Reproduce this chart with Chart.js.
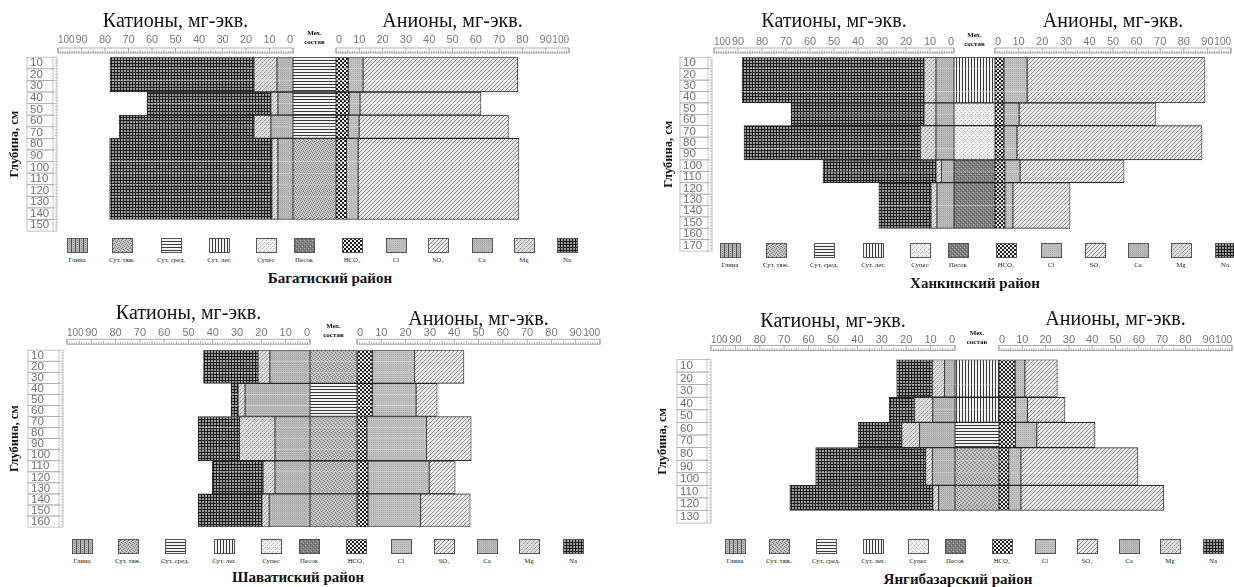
<!DOCTYPE html>
<html>
<head>
<meta charset="utf-8">
<script src="https://cdn.jsdelivr.net/npm/chart.js@4.4.1/dist/chart.umd.min.js"></script>
<style>
  body { margin: 0; width: 1234px; height: 587px; overflow: hidden; background: #fff; position: relative; }
  canvas { position: absolute; }
  .lg { position: absolute; transform: translate(-50%, -50%); font: 6.8px "Liberation Serif", serif; color: #222; white-space: nowrap; }
  .dist { position: absolute; transform: translate(-50%, -50%); font: bold 15px "Liberation Serif", serif; color: #111; white-space: nowrap; }
</style>
</head>
<body>
<canvas id="c1" width="617" height="238"></canvas>
<canvas id="c2" width="643" height="258"></canvas>
<canvas id="c3" width="617" height="241"></canvas>
<canvas id="c4" width="643" height="238"></canvas>
<script>
// ---- data ----
const meqTicks = [0, 10, 20, 30, 40, 50, 60, 70, 80, 90, 100]
const cationTitle = 'Катионы, мг-экв.'
const anionTitle = 'Анионы, мг-экв.'
const mechTitle = ['Мех.', 'состав']
const depthTitle = 'Глубина, см'
const soilNames = ['Глина', 'Сут. тяж.', 'Сут. сред.', 'Сут. лег.', 'Супес', 'Песок']
const legendNames = ['Глина', 'Сут. тяж.', 'Сут. сред.', 'Сут. лег.', 'Супес', 'Песок', 'HCO₃', 'Cl', 'SO₄', 'Ca', 'Mg', 'Na']

// Багатиский район
const depthBagat = [10, 20, 30, 40, 50, 60, 70, 80, 90, 100, 110, 120, 130, 140, 150]
const layersBagat = [[10, 30], [40, 50], [60, 70], [80, 140]]
const soilBagat = ['Сут. сред.', 'Сут. сред.', 'Сут. сред.', 'Сут. тяж.']
const caBagat = [6.8, 6.4, 9.4, 6.4]
const mgBagat = [9.8, 3.0, 7.2, 2.6]
const naBagat = [61.3, 52.7, 57.4, 69.0]
const hco3Bagat = [5.2, 5.6, 5.2, 4.5]
const clBagat = [6.4, 4.7, 4.7, 5.0]
const so4Bagat = [66.4, 51.9, 64.1, 69.0]

// Ханкинский район
const depthKhanka = [10, 20, 30, 40, 50, 60, 70, 80, 90, 100, 110, 120, 130, 140, 150, 160, 170]
const layersKhanka = [[10, 40], [50, 60], [70, 90], [100, 110], [120, 150]]
const soilKhanka = ['Сут. лег.', 'Супес', 'Супес', 'Песок', 'Песок']
const caKhanka = [7.5, 7.5, 7.5, 5.2, 7.1]
const mgKhanka = [5.0, 5.0, 6.5, 2.3, 2.5]
const naKhanka = [75.8, 55.4, 73.5, 47.1, 21.7]
const hco3Khanka = [3.8, 3.8, 3.8, 4.2, 4.2]
const clKhanka = [9.8, 6.4, 5.5, 6.4, 3.4]
const so4Khanka = [75.4, 58.0, 78.4, 44.1, 24.2]

// Шаватиский район
const depthShavat = [10, 20, 30, 40, 50, 60, 70, 80, 90, 100, 110, 120, 130, 140, 150, 160]
const layersShavat = [[10, 30], [40, 60], [70, 100], [110, 130], [140, 160]]
const soilShavat = ['Сут. тяж.', 'Сут. сред.', 'Сут. тяж.', 'Сут. тяж.', 'Сут. тяж.']
const caShavat = [16.5, 26.7, 14.4, 14.4, 16.8]
const mgShavat = [4.9, 2.9, 14.6, 4.9, 3.0]
const naShavat = [22.4, 2.9, 17.0, 20.9, 26.2]
const hco3Shavat = [6.3, 6.3, 4.1, 4.5, 4.5]
const clShavat = [17.4, 18.0, 24.5, 25.2, 21.7]
const so4Shavat = [20.3, 8.7, 18.4, 10.7, 20.4]

// Янгибазарский район
const depthYangi = [10, 20, 30, 40, 50, 60, 70, 80, 90, 100, 110, 120, 130]
const layersYangi = [[10, 30], [40, 50], [60, 70], [80, 100], [110, 120]]
const soilYangi = ['Сут. лег.', 'Сут. лег.', 'Сут. сред.', 'Сут. тяж.', 'Сут. тяж.']
const caYangi = [4.3, 9.1, 14.5, 9.3, 6.7]
const mgYangi = [5.0, 7.5, 7.3, 2.7, 2.4]
const naYangi = [14.6, 10.4, 17.9, 45.1, 58.6]
const hco3Yangi = [6.9, 7.1, 7.1, 4.2, 4.2]
const clYangi = [4.2, 5.1, 9.1, 5.2, 5.2]
const so4Yangi = [13.9, 16.1, 25.0, 50.2, 61.3]

// ---- layout of the four panels (page pixels) ----
const panels = [
  { id: 'c1', name: 'Багатиский район', depth: depthBagat, layers: layersBagat, soil: soilBagat,
    ca: caBagat, mg: mgBagat, na: naBagat, hco3: hco3Bagat, cl: clBagat, so4: so4Bagat,
    left: 0, top: 0, chartL: 58, c0: 293, a0: 336, chartR: 569, chartT: 57.2,
    cellL: 27, cellR: 53, yTitleX: 15, tickY: 40, catY: 22, anY: 22, gap: 4.2,
    legTop: 238, legXs: [77, 122, 171, 219, 266, 304, 352, 396, 438, 482, 524, 567], titleX: 330, titleY: 278 },
  { id: 'c2', name: 'Ханкинский район', depth: depthKhanka, layers: layersKhanka, soil: soilKhanka,
    ca: caKhanka, mg: mgKhanka, na: naKhanka, hco3: hco3Khanka, cl: clKhanka, so4: so4Khanka,
    left: 617, top: 0, chartL: 714, c0: 954, a0: 995, chartR: 1231, chartT: 57.3,
    cellL: 680, cellR: 708, yTitleX: 669, tickY: 41.7, catY: 21.7, anY: 21.7, gap: 4.3,
    legTop: 243, legXs: [730, 776, 824, 873, 920, 958, 1006, 1051, 1095, 1138, 1181, 1225], titleX: 975, titleY: 283 },
  { id: 'c3', name: 'Шаватиский район', depth: depthShavat, layers: layersShavat, soil: soilShavat,
    ca: caShavat, mg: mgShavat, na: naShavat, hco3: hco3Shavat, cl: clShavat, so4: so4Shavat,
    left: 0, top: 293, chartL: 67, c0: 310, a0: 357, chartR: 600, chartT: 350.2,
    cellL: 28, cellR: 59, yTitleX: 15, tickY: 333, catY: 314, anY: 319.5, gap: 6,
    legTop: 539, legXs: [82, 128, 175, 224, 271, 309, 356, 401, 444, 487, 529, 573], titleX: 298, titleY: 577 },
  { id: 'c4', name: 'Янгибазарский район', depth: depthYangi, layers: layersYangi, soil: soilYangi,
    ca: caYangi, mg: mgYangi, na: naYangi, hco3: hco3Yangi, cl: clYangi, so4: so4Yangi,
    left: 617, top: 293, chartL: 711, c0: 955, a0: 999, chartR: 1232, chartT: 359.5,
    cellL: 677, cellR: 707, yTitleX: 663, tickY: 340, catY: 321.7, anY: 319.5, gap: 9,
    legTop: 539, legXs: [735, 779, 826, 873, 918, 955, 1002, 1045, 1087, 1129, 1170, 1213], titleX: 958, titleY: 578.5 }
]
const pitches = { c1: 11.64, c2: 11.4, c3: 11.1, c4: 12.65 }

const serif = '"Liberation Serif", "DejaVu Serif", serif'
const sans = '"Liberation Sans Narrow", "Liberation Sans", Arial, sans-serif'

// hatch tiles, one per legend entry
function makeTile(name) {
  const D = '#1e1e1e'
  const specs = {
    'Na':        [3, 3, '#9c9c9c', [[0,0,D],[1,0,D],[2,0,D],[0,1,D],[0,2,D]]],
    'Mg':        [4, 4, '#dedede', [[0,0,'#8a8a8a'],[2,2,'#8a8a8a'],[3,1,'#b0b0b0'],[1,3,'#b0b0b0']]],
    'Ca':        [2, 2, '#bababa', [[0,0,'#a6a6a6']]],
    'Cl':        [2, 2, '#c1c1c1', [[1,1,'#acacac']]],
    'HCO₃':      [4, 4, '#ececec', [[0,0,D],[1,0,D],[0,1,D],[1,1,D],[2,2,D],[3,2,D],[2,3,D],[3,3,D]]],
    'SO₄':       [4, 4, '#ececec', [[3,0,'#858585'],[2,1,'#858585'],[1,2,'#858585'],[0,3,'#858585']]],
    'Глина':     [4, 2, '#b9b9b9', [[0,0,'#4a4a4a'],[0,1,'#4a4a4a'],[2,0,'#8a8a8a']]],
    'Сут. тяж.': [4, 4, '#c6c6c6', [[0,0,'#707070'],[2,1,'#707070'],[1,2,'#707070'],[3,3,'#707070']]],
    'Сут. сред.':[1, 3, '#f2f2f2', [[0,0,'#3a3a3a']]],
    'Сут. лег.': [3, 1, '#f2f2f2', [[0,0,'#3a3a3a']]],
    'Супес':     [4, 4, '#efefef', [[0,0,'#b4b4b4'],[2,2,'#b4b4b4'],[3,1,'#cfcfcf']]],
    'Песок':     [4, 4, '#7d7d7d', [[0,0,'#b8b8b8'],[2,2,'#b8b8b8'],[1,3,'#5c5c5c'],[3,1,'#5c5c5c']]]
  }
  const [w, h, bg, marks] = specs[name]
  const c = document.createElement('canvas')
  c.width = w
  c.height = h
  const g = c.getContext('2d')
  g.fillStyle = bg
  g.fillRect(0, 0, w, h)
  marks.forEach(([x, y, col]) => { g.fillStyle = col; g.fillRect(x, y, 1, 1) })
  return c
}

// rulers above the scales and boxed depth labels
const decor = {
  id: 'decor',
  afterDraw(chart, args, o) {
    const { ctx, chartArea, scales } = chart
    ctx.save()
    ctx.strokeStyle = '#8a8a8a'
    ctx.lineWidth = 0.7
    const yb = chartArea.top - o.gap
    for (const id of ['xc', 'xa']) {
      const s = scales[id]
      const x0 = s.getPixelForValue(0), x1 = s.getPixelForValue(100)
      ctx.strokeRect(Math.min(x0, x1), yb - 5, Math.abs(x1 - x0), 5)
      ctx.beginPath()
      for (let v = 0; v <= 100; v++) {
        const x = s.getPixelForValue(v)
        const h = v % 10 === 0 ? 5 : v % 5 === 0 ? 3.2 : 2
        ctx.moveTo(x, yb)
        ctx.lineTo(x, yb - h)
      }
      ctx.stroke()
    }
    const y = scales.y
    const n = y.ticks.length
    const p = (chartArea.bottom - chartArea.top) / n
    ctx.strokeStyle = '#a8a8a8'
    for (let i = 0; i < n; i++) {
      const yc = y.getPixelForTick(i)
      ctx.strokeRect(o.cellL, yc - p / 2, o.cellR - o.cellL, p)
    }
    ctx.beginPath()
    ctx.moveTo(o.cellR + 4, chartArea.top)
    ctx.lineTo(o.cellR + 4, chartArea.bottom)
    for (let k = 0; k <= n * 4; k++) {
      const yy = chartArea.top + k * p / 4
      ctx.moveTo(o.cellR + 4, yy)
      ctx.lineTo(o.cellR + (k % 4 === 0 ? 0 : 2), yy)
    }
    ctx.stroke()
    ctx.restore()
  }
}

function buildPanel(p) {
  const cv = document.getElementById(p.id)
  cv.style.left = p.left + 'px'
  cv.style.top = p.top + 'px'
  const ctx = cv.getContext('2d')
  const pitch = pitches[p.id]
  const bottom = p.chartT + pitch * p.depth.length
  cv.height = Math.ceil(bottom - p.top + 6)
  cv.width = Math.ceil(p.chartR + 20 - p.left)
  const labelX = p.cellL + 3 - p.left

  const layerOf = d => p.layers.findIndex(l => d >= l[0] && d <= l[1])
  const perRow = vals => p.depth.map(d => { const i = layerOf(d); return i < 0 ? null : vals[i] })
  const edge = c => {
    if (c.dataIndex === undefined) return 1
    const d = p.depth[c.dataIndex]
    const i = layerOf(d)
    if (i < 0) return 0
    const l = p.layers[i]
    return { top: d === l[0] ? 1 : 0, bottom: d === l[1] ? 1 : 0, left: 0.8, right: 0.8 }
  }
  const ds = (label, axis, vals) => ({
    label: label,
    xAxisID: axis,
    data: perRow(vals),
    backgroundColor: ctx.createPattern(makeTile(label), 'repeat'),
    borderColor: '#262626',
    borderWidth: edge,
    borderSkipped: false
  })

  // the end label "100" sits inside the ruler, slightly smaller so it clears "90"
  const tickFont = c => ({ family: sans, size: c.tick && c.tick.value === 100 ? 10 : 11 })
  const tickPad = p.chartT - p.tickY - 6.6
  const topAxis = (extra) => Object.assign({
    type: 'linear', position: 'top', stack: 'top', stacked: true,
    grid: { display: false, drawTicks: false },
    border: { display: false },
    afterFit: s => { s.height = p.chartT - p.top }
  }, extra)

  new Chart(ctx, {
    type: 'bar',
    data: {
      labels: p.depth.map(String),
      datasets: [
        ds('Ca', 'xc', p.ca), ds('Mg', 'xc', p.mg), ds('Na', 'xc', p.na),
        ds('HCO₃', 'xa', p.hco3), ds('Cl', 'xa', p.cl), ds('SO₄', 'xa', p.so4),
        ...soilNames.map(s => ds(s, 'xm', p.soil.map(t => t === s ? 1 : null)))
      ]
    },
    options: {
      indexAxis: 'y',
      responsive: false,
      animation: false,
      events: [],
      layout: { padding: { left: labelX, top: 0, right: cv.width - (p.chartR - p.left), bottom: cv.height - (bottom - p.top) } },
      datasets: { bar: { barPercentage: 1, categoryPercentage: 1 } },
      plugins: {
        legend: { display: false },
        tooltip: { enabled: false },
        decor: { gap: p.gap, cellL: p.cellL - p.left, cellR: p.cellR - p.left }
      },
      scales: {
        y: {
          stacked: true,
          grid: { display: false, drawTicks: false },
          border: { display: false },
          ticks: { autoSkip: false, crossAlign: 'far', padding: 0, color: '#707070', font: { family: sans, size: 11.5 } },
          title: { display: true, text: depthTitle, color: '#111', font: { family: serif, size: 12.5, weight: 'bold' },
                   padding: { top: p.yTitleX - p.left - labelX - 7.5, bottom: 0 } },
          afterFit: s => { s.width = p.chartL - p.left - labelX }
        },
        xc: topAxis({
          weight: 3, stackWeight: p.c0 - p.chartL, reverse: true, min: 0, max: 100,
          afterBuildTicks: s => { s.ticks = meqTicks.map(v => ({ value: v })) },
          ticks: { autoSkip: false, maxRotation: 0, align: 'inner', padding: tickPad, color: '#777', font: tickFont },
          title: { display: true, text: cationTitle, color: '#111', font: { family: serif, size: 20 },
                   padding: { top: p.catY - p.top - 12, bottom: 0 } }
        }),
        xm: topAxis({
          weight: 2, stackWeight: p.a0 - p.c0, min: 0, max: 1,
          ticks: { display: false },
          title: { display: true, text: mechTitle, color: '#111', font: { family: serif, size: 7, weight: 'bold', lineHeight: '9px' },
                   padding: { top: p.tickY - 7 - p.top - 4.5, bottom: 0 } }
        }),
        xa: topAxis({
          weight: 1, stackWeight: p.chartR - p.a0, min: 0, max: 100,
          afterBuildTicks: s => { s.ticks = meqTicks.map(v => ({ value: v })) },
          ticks: { autoSkip: false, maxRotation: 0, align: 'inner', padding: tickPad, color: '#777', font: tickFont },
          title: { display: true, text: anionTitle, color: '#111', font: { family: serif, size: 20 },
                   padding: { top: p.anY - p.top - 12, bottom: 0 } }
        })
      }
    },
    plugins: [decor]
  })
}

function buildLegend(p) {
  p.legXs.forEach((x, i) => {
    const name = legendNames[i]
    const sw = document.createElement('canvas')
    sw.width = 21
    sw.height = 15
    const g = sw.getContext('2d')
    g.fillStyle = g.createPattern(makeTile(name), 'repeat')
    g.fillRect(0, 0, 21, 15)
    g.strokeStyle = '#555'
    g.strokeRect(0.5, 0.5, 20, 14)
    sw.style.left = (x - 10.5) + 'px'
    sw.style.top = p.legTop + 'px'
    document.body.appendChild(sw)
    const t = document.createElement('div')
    t.className = 'lg'
    t.textContent = name
    t.style.left = x + 'px'
    t.style.top = (p.legTop + 20.5) + 'px'
    document.body.appendChild(t)
  })
  const h = document.createElement('div')
  h.className = 'dist'
  h.textContent = p.name
  h.style.left = p.titleX + 'px'
  h.style.top = p.titleY + 'px'
  document.body.appendChild(h)
}

panels.forEach(p => { buildPanel(p); buildLegend(p) })
</script>
</body>
</html>
